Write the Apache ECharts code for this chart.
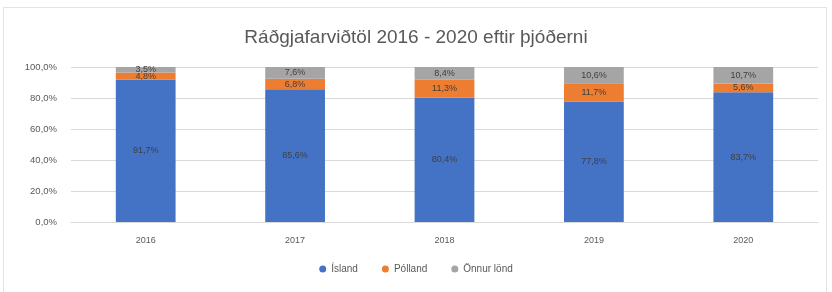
<!DOCTYPE html>
<html>
	<head>
		<meta charset="UTF-8">
		<title>Ráðgjafarviðtöl</title>
		<style>
			html, body { margin: 0; padding: 0; background: #fff; }
			#frame { position: absolute; left: 3px; top: 7px; width: 824px; height: 290px; border: 1px solid #e3e3e3; box-sizing: border-box; }
			#chart { position: absolute; left: 0; top: 0; width: 832px; height: 292px; }
		</style>
	</head>
	<body>
		<div id="frame"></div>
		<div id="chart"></div>
	</body>
	<script src="https://cdn.jsdelivr.net/npm/echarts@6/dist/echarts.min.js" type="text/javascript" charset="utf-8"></script>
	<script type="text/javascript">
		// gögn lesin af myndinni
		var years = ['2016', '2017', '2018', '2019', '2020'];
		var island = [91.7, 85.6, 80.4, 77.8, 83.7];
		var polland = [4.8, 6.8, 11.3, 11.7, 5.6];
		var onnur = [3.5, 7.6, 8.4, 10.6, 10.7];
		var yTicks = [0, 20, 40, 60, 80, 100];

		function pct(v) {
			return v.toFixed(1).replace('.', ',') + '%';
		}

		var chart = echarts.init(document.getElementById('chart'));

		var labelStyle = {
			show: true,
			color: '#404040',
			fontSize: 9,
			fontFamily: 'Liberation Sans',
			formatter: function (p) { return pct(p.value); }
		};

		var option = {
			animation: false,
			title: {
				text: 'Ráðgjafarviðtöl 2016 - 2020 eftir þjóðerni',
				left: 'center',
				top: 23,
				textStyle: { color: '#595959', fontSize: 19, fontWeight: 'normal', fontFamily: 'Liberation Sans' }
			},
			legend: {
				bottom: 13,
				left: 'center',
				icon: 'circle',
				itemWidth: 7,
				itemHeight: 7,
				itemGap: 24,
				textStyle: { color: '#595959', fontSize: 10, fontFamily: 'Liberation Sans' },
				data: ['Ísland', 'Pólland', 'Önnur lönd']
			},
			grid: { left: 71, right: 14, top: 67, bottom: 70 },
			xAxis: {
				type: 'category',
				data: years,
				axisLine: { lineStyle: { color: '#d9d9d9' } },
				axisTick: { show: false },
				axisLabel: { color: '#595959', fontSize: 9, margin: 14, fontFamily: 'Liberation Sans' }
			},
			yAxis: {
				type: 'value',
				min: yTicks[0],
				max: yTicks[yTicks.length - 1],
				interval: 20,
				axisLine: { show: false },
				axisTick: { show: false },
				splitLine: { lineStyle: { color: '#d9d9d9' } },
				axisLabel: { color: '#595959', fontSize: 9.5, margin: 14, fontFamily: 'Liberation Sans', formatter: function (v) { return pct(v); } }
			},
			series: [
				{ name: 'Ísland', type: 'bar', stack: 'a', barWidth: '40%', data: island, itemStyle: { color: '#4472C4' }, label: labelStyle },
				{ name: 'Pólland', type: 'bar', stack: 'a', data: polland, itemStyle: { color: '#ED7D31' }, label: labelStyle },
				{ name: 'Önnur lönd', type: 'bar', stack: 'a', data: onnur, itemStyle: { color: '#A5A5A5' }, label: labelStyle }
			]
		};

		chart.setOption(option);
	</script>
</html>
